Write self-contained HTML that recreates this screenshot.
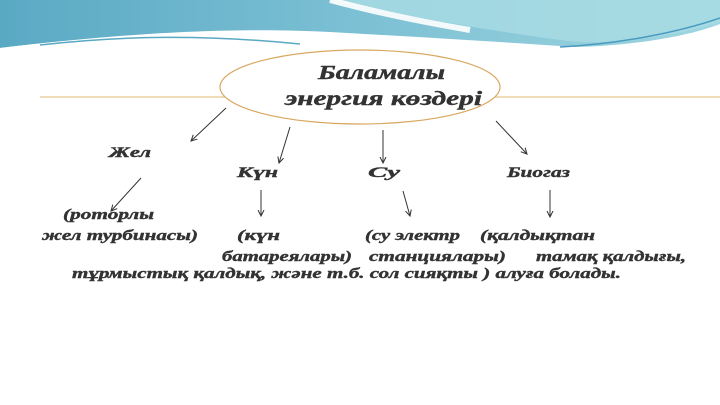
<!DOCTYPE html>
<html><head><meta charset="utf-8"><style>
html,body{margin:0;padding:0;background:#fff;}
svg{display:block}
text{font-family:"Liberation Serif","DejaVu Serif",serif;font-weight:bold;font-style:italic;fill:#333;stroke:#333;stroke-width:0.4;}
</style></head><body>
<svg width="720" height="405" viewBox="0 0 720 405" xmlns="http://www.w3.org/2000/svg">
<defs>
<linearGradient id="g1" x1="0" y1="0" x2="1" y2="0">
<stop offset="0" stop-color="#5aa9c4"/><stop offset="0.5" stop-color="#7cc0d4"/><stop offset="1" stop-color="#9fd6e0"/>
</linearGradient>
<marker id="a" markerWidth="8" markerHeight="8" refX="6" refY="4" orient="auto"><path d="M0,1 L6,4 L0,7" fill="none" stroke="#333" stroke-width="1"/></marker>
</defs>
<path d="M0,0 H720 V30 C650,45 600,50 560,46 C470,40 400,36 330,32 C250,28 150,30 0,48 Z" fill="url(#g1)"/>
<path d="M330,0 C380,10 450,25 560,40 C600,46 660,40 720,22 V0 Z" fill="#a9dce3" opacity="0.8"/>
<path d="M330,0 C360,8 400,18 470,30" stroke="#fff" stroke-width="6" fill="none" opacity="0.9"/>
<path d="M0,48 C100,36 200,30 330,38 C420,44 520,50 600,46 C660,42 700,32 720,24 V55 H0 Z" fill="#fff"/>
<path d="M40,45 C120,36 200,34 300,44" stroke="#5aa9c4" stroke-width="1.5" fill="none"/>
<path d="M560,47 C620,44 680,32 720,18" stroke="#4a9ac0" stroke-width="1.5" fill="none"/>
<line x1="40" y1="97" x2="720" y2="97" stroke="#e0b870" stroke-width="1"/>
<ellipse cx="360" cy="87" rx="140" ry="37" fill="#fff" stroke="#d9a860" stroke-width="1.2"/>
<text x="318" y="79" font-size="20" textLength="127" lengthAdjust="spacingAndGlyphs">Баламалы</text>
<text x="285" y="105" font-size="20" textLength="197" lengthAdjust="spacingAndGlyphs">энергия көздері</text>
<g stroke="#333" stroke-width="1" marker-end="url(#a)">
<line x1="226" y1="108" x2="191" y2="141"/>
<line x1="290" y1="127" x2="279" y2="163"/>
<line x1="383" y1="130" x2="383" y2="163"/>
<line x1="496" y1="121" x2="527" y2="154"/>
<line x1="141" y1="178" x2="111" y2="211"/>
<line x1="261" y1="190" x2="261" y2="216"/>
<line x1="403" y1="191" x2="410" y2="216"/>
<line x1="550" y1="190" x2="550" y2="217"/>
</g>
<g font-size="15">
<text x="109" y="157" textLength="42" lengthAdjust="spacingAndGlyphs">Жел</text>
<text x="237" y="177" textLength="41" lengthAdjust="spacingAndGlyphs">Күн</text>
<text x="368" y="177" textLength="32" lengthAdjust="spacingAndGlyphs">Су</text>
<text x="507" y="177" textLength="63" lengthAdjust="spacingAndGlyphs">Биогаз</text>
<text x="63" y="219" textLength="91" lengthAdjust="spacingAndGlyphs">(роторлы</text>
<text x="42" y="240" textLength="156" lengthAdjust="spacingAndGlyphs">жел турбинасы)</text>
<text x="237" y="240" textLength="43" lengthAdjust="spacingAndGlyphs">(күн</text>
<text x="365" y="240" textLength="95" lengthAdjust="spacingAndGlyphs">(су электр</text>
<text x="480" y="240" textLength="115" lengthAdjust="spacingAndGlyphs">(қалдықтан</text>
<text x="222" y="261" textLength="130" lengthAdjust="spacingAndGlyphs">батареялары)</text>
<text x="369" y="261" textLength="137" lengthAdjust="spacingAndGlyphs">станциялары)</text>
<text x="536" y="261" textLength="150" lengthAdjust="spacingAndGlyphs">тамақ қалдығы,</text>
<text x="72" y="278" textLength="549" lengthAdjust="spacingAndGlyphs">тұрмыстық қалдық, және т.б. сол сияқты ) алуға болады.</text>
</g>
</svg>
</body></html>
